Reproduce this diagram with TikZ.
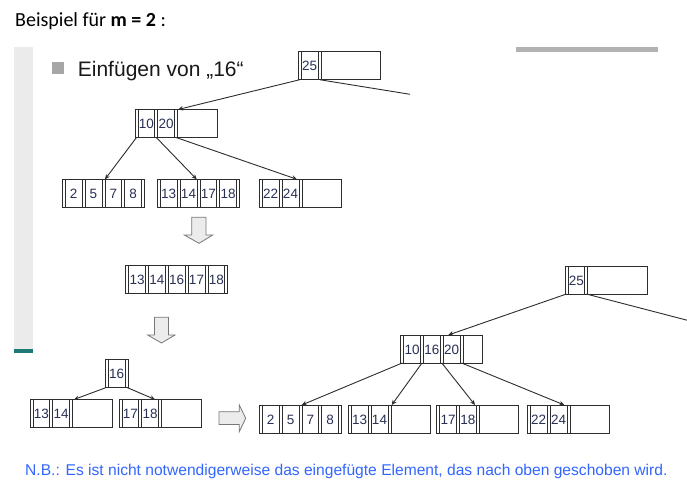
\documentclass[tikz,border=0pt]{standalone}
\usepackage{fontspec}
\setmainfont{Liberation Sans}
\newfontfamily\calibri{Carlito}
\usetikzlibrary{arrows.meta,calc}
\definecolor{linegray}{RGB}{45,45,45}
\definecolor{keycol}{RGB}{40,48,85}
\definecolor{barlight}{RGB}{235,235,235}
\definecolor{bardark}{RGB}{178,178,178}
\definecolor{tealbar}{RGB}{30,120,118}
\definecolor{nbblue}{RGB}{51,102,255}
\definecolor{bulletgray}{RGB}{166,166,166}
\definecolor{blockfill}{RGB}{236,236,236}
\definecolor{blockline}{RGB}{120,120,120}
\tikzset{
  bbox/.style={draw=linegray, line width=0.9pt, minimum height=28pt, inner sep=0pt, outer sep=0pt},
  bline/.style={draw=linegray, line width=0.8pt},
  keytxt/.style={inner sep=0pt, font=\fontsize{13.5}{15}\selectfont, text=keycol},
  ptr/.style={draw=linegray, line width=0.9pt, -{Stealth[length=5pt,width=4.5pt]}},
  plainptr/.style={draw=linegray, line width=0.9pt},
  blockarrow/.style={fill=blockfill, draw=blockline, line width=0.8pt},
}
\newcommand\bnode[6]{%
  \node[bbox, minimum width=#4pt, anchor=north west] (#1) at (#2,#3) {};
  \foreach \k [count=\i from 0] in {#6} {
    \pgfmathsetmacro\xa{#2+19.8*\i}
    \draw[bline] (\xa+3,#3) -- (\xa+3,#3+28);
    \draw[bline] (\xa+19.8,#3) -- (\xa+19.8,#3+28);
    \node[keytxt] (#1-k\i) at (\xa+11.4,#3+14.5) {\k};
    \coordinate (#1-p\i) at (\xa+1.5,#3+28);
  }
  \pgfmathsetmacro\xb{#2+19.8*#5}
  \draw[bline] (\xb+3,#3) -- (\xb+3,#3+28);
  \coordinate (#1-p#5) at (\xb+1.5,#3+28);
}
\begin{document}
\begin{tikzpicture}[x=1pt,y=-1pt]
\useasboundingbox (0,0) rectangle (687,494);
\fill[white] (0,0) rectangle (687,494);
% decorations
\fill[barlight] (13.5,46.7) rectangle (33.3,349);
\fill[tealbar] (13.5,349) rectangle (33.3,352.5);
\fill[bardark] (515.7,46.7) rectangle (658,52.3);
\fill[bulletgray] (52,62.3) rectangle (64,74.3);
% texts
\node[anchor=base west, inner sep=0pt, font=\calibri\fontsize{20}{24}\selectfont] (title) at (15,26.7) {Beispiel für \textbf{m = 2} :};
\node[anchor=base west, inner sep=0pt, font=\fontsize{21}{25}\selectfont, text=black!90] (head) at (77.7,76.7) {Einfügen von „16“};
\node[anchor=base west, inner sep=0pt, font=\fontsize{15.6}{18}\selectfont, text=nbblue] (nb) at (25,475) {N.B.: Es ist nicht notwendigerweise das eingefügte Element, das nach oben geschoben wird.};
% upper tree
\bnode{Ra}{298.3}{51.7}{82}{1}{25}
\bnode{A}{135}{109.5}{82}{2}{10,20}
\bnode{La}{62.3}{179.3}{82}{4}{2,5,7,8}
\bnode{Lb}{157.3}{179.3}{82}{4}{13,14,17,18}
\bnode{Lc}{259.3}{179.3}{82}{2}{22,24}
\coordinate (Rafree) at (410,94.3);
\draw[ptr] (Ra-p0) -- ($(A.north west)+(43,0)$);
\draw[plainptr] (Ra-p1) -- (Rafree);
\draw[ptr] (A-p0) -- ($(La.north west)+(42.7,0)$);
\draw[ptr] (A-p1) -- ($(Lb.north west)+(39.4,0)$);
\draw[ptr] (A-p2) -- ($(Lc.north west)+(37.7,0)$);
% block arrows
\draw[blockarrow] (191.7,217.3) -- (206,217.3) -- (206,235) -- (212.7,235) -- (199,243.3) -- (184.3,235) -- (191.7,235) -- cycle;
\draw[blockarrow] (154.5,317.3) -- (168.5,317.3) -- (168.5,335) -- (175,335) -- (161.5,343) -- (147.7,335) -- (154.5,335) -- cycle;
\draw[blockarrow] (219,411.7) -- (239.3,411.7) -- (239.3,405) -- (245.7,418.3) -- (239.3,431.7) -- (239.3,424.5) -- (219,424.5) -- cycle;
% overflow node
\bnode{M}{125.7}{265.7}{102}{5}{13,14,16,17,18}
% split
\bnode{S}{105.3}{359.3}{22.8}{1}{16}
\bnode{Sa}{30}{399.5}{82}{2}{13,14}
\bnode{Sb}{119}{399.5}{82}{2}{17,18}
\draw[ptr] (S-p0) -- ($(Sa.north west)+(44,0)$);
\draw[ptr] (S-p1) -- ($(Sb.north west)+(36,0)$);
% right tree
\bnode{Rb}{565}{266}{82}{1}{25}
\bnode{B}{400.7}{335}{82}{3}{10,16,20}
\bnode{Ta}{259.3}{405}{82}{4}{2,5,7,8}
\bnode{Tb}{348.3}{405}{82}{2}{13,14}
\bnode{Tc}{436.7}{405}{82}{2}{17,18}
\bnode{Td}{527.3}{405}{82}{2}{22,24}
\coordinate (Rbfree) at (687,320.2);
\draw[ptr] (Rb-p0) -- ($(B.north west)+(47.6,0)$);
\draw[plainptr] (Rb-p1) -- (Rbfree);
\draw[ptr] (B-p0) -- ($(Ta.north west)+(42.4,0)$);
\draw[ptr] (B-p1) -- ($(Tb.north west)+(43.4,0)$);
\draw[ptr] (B-p2) -- ($(Tc.north west)+(38.3,0)$);
\draw[ptr] (B-p3) -- ($(Td.north west)+(37,0)$);
\end{tikzpicture}
\end{document}
